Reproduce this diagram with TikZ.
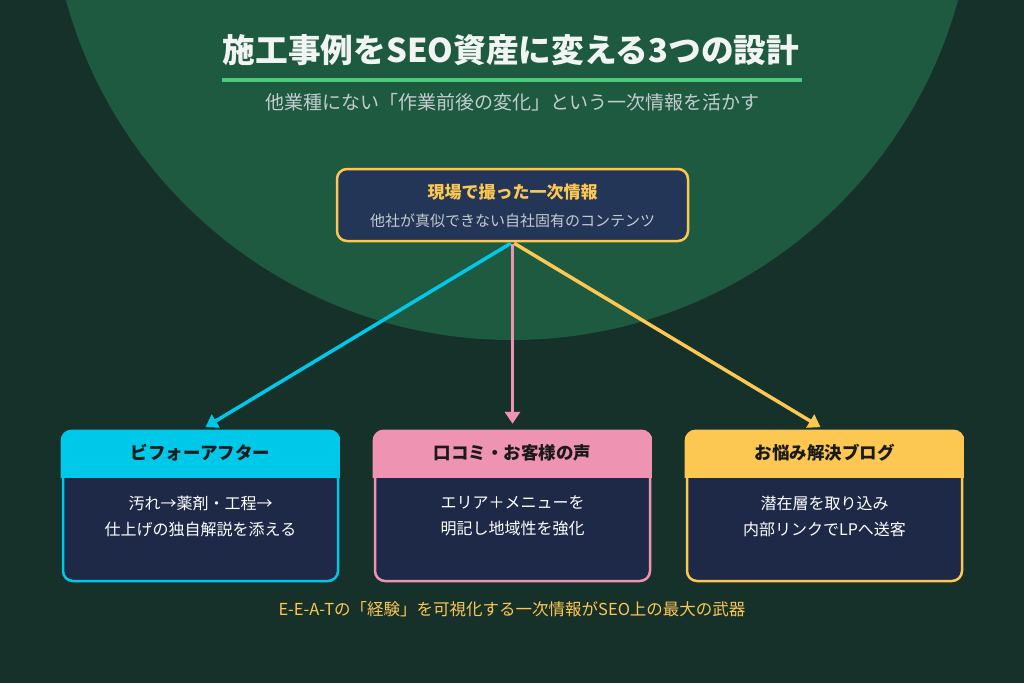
\documentclass[tikz,border=0pt]{standalone}
\usepackage{fontspec}
\setmainfont{Noto Sans CJK JP}
\newfontfamily\heavy{Noto Sans CJK JP Black}
\usetikzlibrary{arrows.meta}
\definecolor{bgc}{HTML}{16302A}
\definecolor{circ}{HTML}{1E5A40}
\definecolor{navytop}{HTML}{243657}
\definecolor{navy}{HTML}{1D2947}
\definecolor{ccyan}{HTML}{00C8E8}
\definecolor{cpink}{HTML}{EF93B3}
\definecolor{cyel}{HTML}{FCC851}
\definecolor{gline}{HTML}{4CC97A}
\definecolor{subg}{HTML}{C3CCD0}
\definecolor{titlew}{HTML}{F2F4F3}
\definecolor{hdtxt}{HTML}{1A1A1A}
\tikzset{
  cardbox/.style={draw=#1, line width=2.5pt, fill=navy, rounded corners=10pt,
    minimum width=275pt, minimum height=149pt, inner sep=0pt},
  hdtext/.style={text=hdtxt, font=\heavy\fontsize{17.5}{20}\selectfont, inner sep=0pt},
  bodytext/.style={text=white, font=\fontsize{16}{26}\selectfont, align=center, inner sep=0pt},
  conn/.style={draw=#1, line width=3.5pt, -{Triangle[length=12pt,width=15pt]}, shorten >=7pt, shorten <=2pt}
}
\begin{document}
\begin{tikzpicture}[x=1pt,y=-1pt]
\useasboundingbox (0,0) rectangle (1024,683);
\fill[bgc] (0,0) rectangle (1024,683);
\begin{scope}
\clip (0,0) rectangle (1024,683);
\fill[circ] (512,-122.5) circle (462.5);
\end{scope}
% title
\node[text=titlew, font=\heavy\fontsize{32.7}{36}\selectfont, inner sep=0pt] (title) at (511,50) {施工事例をSEO資産に変える3つの設計};
\coordinate (gl1) at (222,80);
\coordinate (gl2) at (802,80);
\draw[gline, line width=3.5pt] (gl1) -- (gl2);
\node[text=subg, font=\fontsize{19}{22}\selectfont, inner sep=0pt] (sub) at (512,102) {他業種にない「作業前後の変化」という一次情報を活かす};
% top box
\node[draw=cyel, line width=2.5pt, fill=navytop, rounded corners=10pt, minimum width=351pt, minimum height=72pt] (top) at (512.5,205) {};
\node[text=cyel, font=\heavy\fontsize{17}{20}\selectfont, inner sep=0pt] (toph) at (512.5,192) {現場で撮った一次情報};
\node[text=subg, font=\fontsize{15}{18}\selectfont, inner sep=0pt] (topb) at (512.5,221) {他社が真似できない自社固有のコンテンツ};
% bottom cards
\node[cardbox=ccyan] (b1) at (200.5,506.5) {};
\node[cardbox=cpink] (b2) at (512.5,506.5) {};
\node[cardbox=cyel] (b3) at (824.5,506.5) {};
\foreach \n/\c in {b1/ccyan,b2/cpink,b3/cyel}{
  \begin{scope}
  \clip[rounded corners=11.25pt] ([xshift=-1.25pt,yshift=1.25pt]\n.north west) rectangle ([xshift=1.25pt,yshift=-1.25pt]\n.south east);
  \fill[\c] ([xshift=-2pt,yshift=2pt]\n.north west) rectangle ([xshift=2pt]\n.east |- 0,478);
  \end{scope}
}
\node[hdtext] (h1) at (200.5,453) {ビフォーアフター};
\node[hdtext] (h2) at (512.5,453) {口コミ・お客様の声};
\node[hdtext] (h3) at (824.5,453) {お悩み解決ブログ};
\node[bodytext] (t1) at (200.5,516) {汚れ→薬剤・工程→\\仕上げの独自解説を添える};
\node[bodytext] (t2) at (512.5,516) {エリア＋メニューを\\明記し地域性を強化};
\node[bodytext] (t3) at (824.5,516) {潜在層を取り込み\\内部リンクでLPへ送客};
% connectors
\draw[conn=ccyan] (top.south) -- ([xshift=-1pt]b1.north);
\draw[conn=cyel] (top.south) -- ([xshift=2pt]b3.north);
\draw[conn=cpink] (top.south) -- (b2.north);
% footer
\node[text=cyel, font=\fontsize{16.5}{18}\selectfont, inner sep=0pt] (foot) at (512,609) {E-E-A-Tの「経験」を可視化する一次情報がSEO上の最大の武器};
\end{tikzpicture}
\end{document}
